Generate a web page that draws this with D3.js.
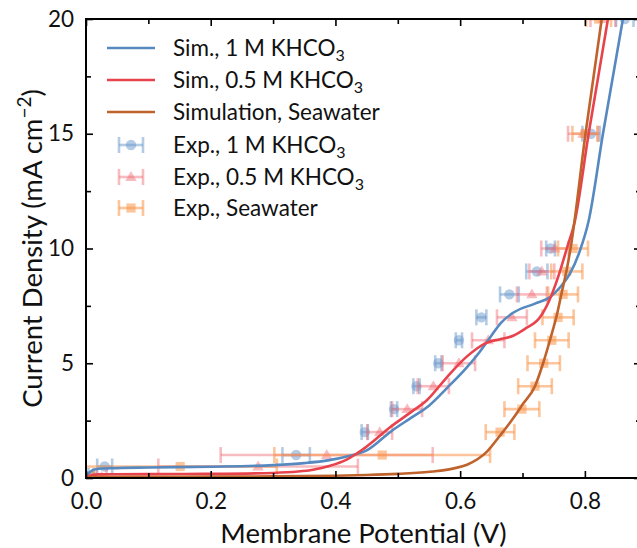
<!DOCTYPE html>
<html>
<head>
<meta charset="utf-8">
<script src="https://cdn.jsdelivr.net/npm/d3@7"></script>
<style>
  body { margin: 0; background: #fff; }
  svg { display: block; }
  text { font-family: Lato, "Open Sans", "DejaVu Sans", sans-serif; fill: #111; }
</style>
</head>
<body>
<svg id="chart" width="637" height="548"></svg>
<script>
// ---- Simulated polarization curves (membrane potential in V, current density in mA cm^-2)
const simV_1M = [0, 0.004, 0.01, 0.02, 0.04, 0.1, 0.2, 0.3, 0.35, 0.39, 0.42, 0.45, 0.49, 0.52, 0.55, 0.58, 0.61, 0.63, 0.65, 0.665, 0.685, 0.72, 0.745, 0.76, 0.776, 0.792, 0.806, 0.829, 0.861, 0.885];
const simJ_1M = [0, 0.2, 0.33, 0.40, 0.43, 0.46, 0.49, 0.56, 0.65, 0.78, 0.95, 1.2, 2.05, 2.6, 3.15, 3.95, 4.8, 5.45, 6.2, 6.75, 7.2, 7.6, 7.9, 8.3, 8.9, 9.9, 11.2, 15, 20, 23.5];

const simV_05M = [0, 0.004, 0.01, 0.02, 0.1, 0.2, 0.3, 0.34, 0.364, 0.39, 0.418, 0.444, 0.465, 0.487, 0.52, 0.547, 0.579, 0.611, 0.643, 0.664, 0.685, 0.704, 0.728, 0.747, 0.76, 0.771, 0.784, 0.806, 0.837, 0.86];
const simJ_05M = [0, 0.08, 0.13, 0.16, 0.17, 0.18, 0.22, 0.28, 0.36, 0.52, 0.8, 1.25, 1.7, 2.2, 2.85, 3.4, 4.4, 5.3, 5.9, 6.05, 6.2, 6.5, 7.0, 8.0, 9.0, 10.0, 11.2, 15, 20, 23.5];

const simV_sea = [0, 0.004, 0.01, 0.1, 0.2, 0.3, 0.4, 0.45, 0.5, 0.556, 0.59, 0.611, 0.643, 0.664, 0.685, 0.70, 0.72, 0.733, 0.745, 0.755, 0.763, 0.771, 0.777, 0.801, 0.827, 0.85];
const simJ_sea = [0, 0.02, 0.04, 0.05, 0.06, 0.07, 0.1, 0.13, 0.18, 0.28, 0.42, 0.58, 1.15, 1.85, 2.6, 3.2, 4.0, 5.0, 6.1, 7.1, 8.1, 9.1, 10.0, 15, 20, 24];

// ---- Experimental points: potential, current density, potential uncertainty
const expV_1M  = [0.008, 0.030, 0.337, 0.447, 0.494, 0.530, 0.565, 0.598, 0.634, 0.679, 0.723, 0.745, 0.810, 0.864];
const expJ_1M  = [0.1, 0.5, 1, 2, 3, 4, 5, 6, 7, 8, 9, 10, 15, 20];
const expE_1M  = [0.004, 0.012, 0.022, 0.005, 0.005, 0.005, 0.005, 0.005, 0.008, 0.015, 0.017, 0.007, 0.014, 0.014];

const expV_05M = [0.025, 0.276, 0.386, 0.471, 0.515, 0.557, 0.598, 0.645, 0.683, 0.715, 0.731, 0.752, 0.797, 0.829];
const expJ_05M = [0.05, 0.5, 1, 2, 3, 4, 5, 6, 7, 8, 9, 10, 15, 20];
const expE_05M = [0.008, 0.160, 0.170, 0.020, 0.024, 0.025, 0.026, 0.026, 0.024, 0.024, 0.020, 0.022, 0.024, 0.020];

const expV_sea = [0.005, 0.151, 0.475, 0.664, 0.699, 0.720, 0.734, 0.747, 0.757, 0.765, 0.771, 0.781, 0.800, 0.822];
const expJ_sea = [0.05, 0.5, 1, 2, 3, 4, 5, 6, 7, 8, 9, 10, 15, 20];
const expE_sea = [0.008, 0.155, 0.173, 0.023, 0.028, 0.027, 0.026, 0.027, 0.025, 0.024, 0.025, 0.024, 0.020, 0.020];

// ---- Axis ticks
const xMajor = [0, 0.2, 0.4, 0.6, 0.8];
const xMinor = [0.1, 0.3, 0.5, 0.7];
const yMajor = [0, 5, 10, 15, 20];
const yMinor = [2.5, 7.5, 12.5, 17.5];

const legendLabels = [
  ["Sim., 1 M KHCO", "3"],
  ["Sim., 0.5 M KHCO", "3"],
  ["Simulation, Seawater", ""],
  ["Exp., 1 M KHCO", "3"],
  ["Exp., 0.5 M KHCO", "3"],
  ["Exp., Seawater", ""]
];

// ---- Styling
const simColors = ["#5689c0", "#e8434d", "#c0622b"];
const expColors = ["#6a98cb", "#f06a74", "#fa9549"];
const expAlpha = [0.5, 0.45, 0.55];

const svg = d3.select("#chart");
const L = 86, R = 641, T = 19, B = 478;

const x = d3.scaleLinear().domain([0, 0.89]).range([L, R]);
const y = d3.scaleLinear().domain([0, 20]).range([B, T]);

svg.append("defs").append("clipPath").attr("id", "plotclip")
  .append("rect").attr("x", L).attr("y", T).attr("width", R - L).attr("height", B - T);

const plot = svg.append("g").attr("clip-path", "url(#plotclip)");

// Marker shapes for the experimental series
function markerPath(kind, s) {
  if (kind === "circle") return d3.symbol(d3.symbolCircle, Math.PI * s * s)();
  if (kind === "triangle") {
    const h = s * 1.9, w = s * 2.2;
    return `M0,${-h * 0.6}L${w / 2},${h * 0.4}L${-w / 2},${h * 0.4}Z`;
  }
  return `M${-s},${-s}H${s}V${s}H${-s}Z`;
}

const expSeries = [
  { V: expV_1M, J: expJ_1M, E: expE_1M, color: expColors[0], a: expAlpha[0], marker: "circle", size: 5.2 },
  { V: expV_05M, J: expJ_05M, E: expE_05M, color: expColors[1], a: expAlpha[1], marker: "triangle", size: 5.2 },
  { V: expV_sea, J: expJ_sea, E: expE_sea, color: expColors[2], a: expAlpha[2], marker: "square", size: 4.6 }
];

const capH = 8;
function drawErrPoint(g, cx, cy, x0, x1, s) {
  g.append("line").attr("x1", x0).attr("x2", x1).attr("y1", cy).attr("y2", cy)
    .attr("stroke", s.color).attr("stroke-width", 2.6).attr("stroke-opacity", s.a);
  [x0, x1].forEach(px => {
    g.append("line").attr("x1", px).attr("x2", px).attr("y1", cy - capH).attr("y2", cy + capH)
      .attr("stroke", s.color).attr("stroke-width", 2.6).attr("stroke-opacity", s.a);
  });
  g.append("path").attr("d", markerPath(s.marker, s.size))
    .attr("transform", `translate(${cx},${cy})`)
    .attr("fill", s.color).attr("fill-opacity", s.a);
}

// Experimental series with horizontal error bars
expSeries.forEach(s => {
  const g = plot.append("g");
  s.V.forEach((v, i) => {
    drawErrPoint(g.append("g"), x(v), y(s.J[i]), x(v - s.E[i]), x(v + s.E[i]), s);
  });
});

// Simulated curves on top
const line = d3.line().x(d => x(d[0])).y(d => y(d[1])).curve(d3.curveMonotoneX);
[[simV_1M, simJ_1M], [simV_05M, simJ_05M], [simV_sea, simJ_sea]].forEach((s, k) => {
  const pts = s[0].map((v, i) => [v, s[1][i]]);
  plot.append("path").attr("d", line(pts)).attr("fill", "none")
    .attr("stroke", simColors[k]).attr("stroke-width", 2.6);
});

// Axes: ticks pointing inward on all four sides
const tickFont = 22.5;
function styleAxis(g) {
  g.select(".domain").remove();
  g.selectAll(".tick line").attr("stroke", "#000").attr("stroke-width", 1.6);
  g.selectAll(".tick text").attr("font-size", tickFont).attr("fill", "#111")
    .style("font-family", "Lato, 'Open Sans', sans-serif");
}
svg.append("g").attr("transform", `translate(0,${B})`)
  .call(d3.axisBottom(x).tickValues(xMajor).tickSize(-7).tickPadding(15).tickFormat(d3.format(".1f"))).call(styleAxis);
svg.append("g").attr("transform", `translate(0,${B})`)
  .call(d3.axisBottom(x).tickValues(xMinor).tickSize(-5).tickFormat("")).call(styleAxis);
svg.append("g").attr("transform", `translate(0,${T})`)
  .call(d3.axisTop(x).tickValues(xMajor).tickSize(-7).tickFormat("")).call(styleAxis);
svg.append("g").attr("transform", `translate(0,${T})`)
  .call(d3.axisTop(x).tickValues(xMinor).tickSize(-5).tickFormat("")).call(styleAxis);
svg.append("g").attr("transform", `translate(${L},0)`)
  .call(d3.axisLeft(y).tickValues(yMajor).tickSize(-7).tickPadding(12).tickFormat(d3.format("d"))).call(styleAxis);
svg.append("g").attr("transform", `translate(${L},0)`)
  .call(d3.axisLeft(y).tickValues(yMinor).tickSize(-5).tickFormat("")).call(styleAxis);
svg.append("g").attr("transform", `translate(${R},0)`)
  .call(d3.axisRight(y).tickValues(yMajor).tickSize(-7).tickFormat("")).call(styleAxis);
svg.append("g").attr("transform", `translate(${R},0)`)
  .call(d3.axisRight(y).tickValues(yMinor).tickSize(-5).tickFormat("")).call(styleAxis);

// Frame
svg.append("rect").attr("x", L).attr("y", T).attr("width", R - L).attr("height", B - T)
  .attr("fill", "none").attr("stroke", "#000").attr("stroke-width", 2);

// Axis titles
svg.append("text").attr("x", (L + R) / 2).attr("y", 543).attr("text-anchor", "middle")
  .attr("font-size", 27.5).text("Membrane Potential (V)");
const yl = svg.append("text").attr("transform", `translate(42,${(T + B) / 2}) rotate(-90)`)
  .attr("text-anchor", "middle").attr("font-size", 27.5);
yl.append("tspan").text("Current Density (mA cm");
yl.append("tspan").attr("dy", -11).attr("font-size", 19).text("\u22122");
yl.append("tspan").attr("dy", 11).text(")");

// Legend
const lg = svg.append("g");
const rowY = [48, 80, 112, 145, 177, 208];
legendLabels.forEach((lab, i) => {
  const ry = rowY[i];
  if (i < 3) {
    lg.append("line").attr("x1", 107).attr("x2", 155).attr("y1", ry).attr("y2", ry)
      .attr("stroke", simColors[i]).attr("stroke-width", 2.6);
  } else {
    drawErrPoint(lg.append("g"), 131, ry, 119, 143, expSeries[i - 3]);
  }
  const t = lg.append("text").attr("x", 173).attr("y", ry + 8).attr("font-size", 22.5);
  t.append("tspan").text(lab[0]);
  if (lab[1]) t.append("tspan").attr("dy", 5).attr("font-size", 16).text(lab[1]);
});
</script>
</body>
</html>
